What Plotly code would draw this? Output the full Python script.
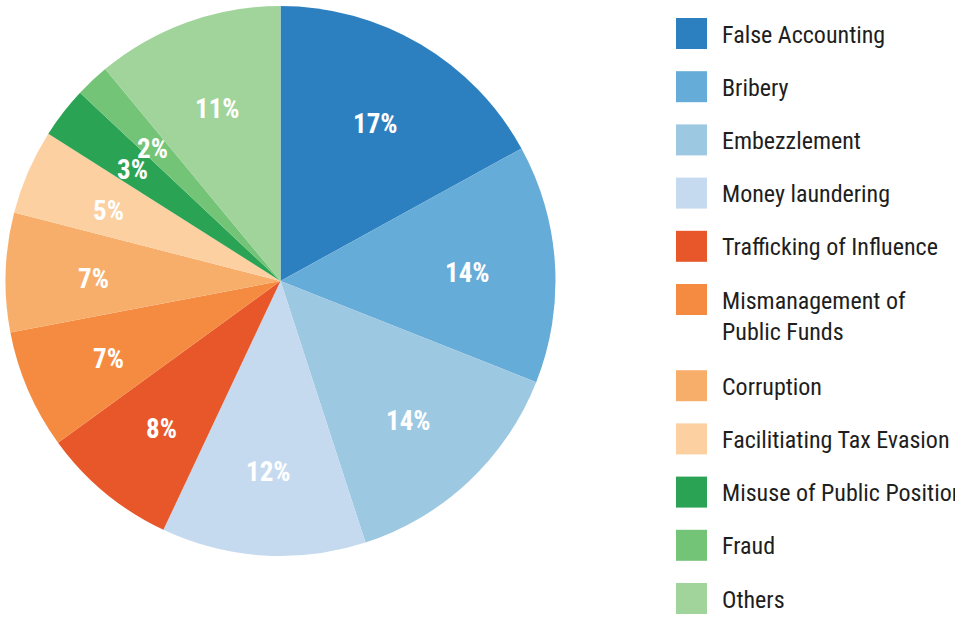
import math
import plotly.graph_objects as go

categories = ["False Accounting", "Bribery", "Embezzlement", "Money laundering",
              "Trafficking of Influence", "Mismanagement of<br>Public Funds", "Corruption",
              "Facilitiating Tax Evasion", "Misuse of Public Position", "Fraud", "Others"]
values = [17, 14, 14, 12, 8, 7, 7, 5, 3, 2, 11]
colors = ["#2d80c0", "#66acd8", "#9dc8e1", "#c6daef", "#e8572a", "#f58b40",
          "#f8ae6b", "#fcd0a1", "#2ba354", "#73c476", "#a0d49a"]

W, H = 955, 617
cx, cy, R = 280.5, 281.0, 275.0
FONT = "Liberation Sans Narrow, Roboto Condensed, Arial Narrow, Roboto, sans-serif"

fig = go.Figure(go.Pie(
    labels=categories, values=values, sort=False, direction="clockwise", rotation=0,
    marker=dict(colors=colors, line=dict(width=0)),
    textinfo="none", hoverinfo="label+percent", showlegend=False,
    domain=dict(x=[(cx - R) / W, (cx + R) / W], y=[(H - cy - R) / H, (H - cy + R) / H]),
))

annotations = []
shapes = []
total = sum(values)
cum = 0.0
for v in values:
    mid = (cum + v / 2) / total * 2 * math.pi
    cum += v
    r = 0.68 * R
    px = cx + r * math.sin(mid)
    py = cy - r * math.cos(mid) + 4
    annotations.append(dict(
        x=px / W, y=1 - py / H, xref="paper", yref="paper", showarrow=False,
        text=f"<b>{round(v / total * 100)}%</b>", xanchor="center", yanchor="middle",
        font=dict(family=FONT, size=27, color="white")))

top = 18.0
for name, col in zip(categories, colors):
    nlines = name.count("<br>") + 1
    shapes.append(dict(type="rect", xref="paper", yref="paper", line=dict(width=0),
                       fillcolor=col, x0=676 / W, x1=707 / W,
                       y0=1 - (top + 31) / H, y1=1 - top / H))
    annotations.append(dict(
        x=720 / W, y=1 - (top + 0.5) / H, xref="paper", yref="paper", showarrow=False,
        text=name, xanchor="left", yanchor="top", align="left",
        font=dict(family=FONT, size=24, color="#1e1e1e")))
    top += 53.2 + 33 * (nlines - 1)

fig.update_layout(
    width=W, height=H, margin=dict(l=0, r=0, t=0, b=0),
    paper_bgcolor="white", plot_bgcolor="white",
    annotations=annotations, shapes=shapes,
)
fig.write_html("out.html", config={"displayModeBar": False},
               post_script="document.body.style.margin='0';document.body.style.overflow='hidden';")
